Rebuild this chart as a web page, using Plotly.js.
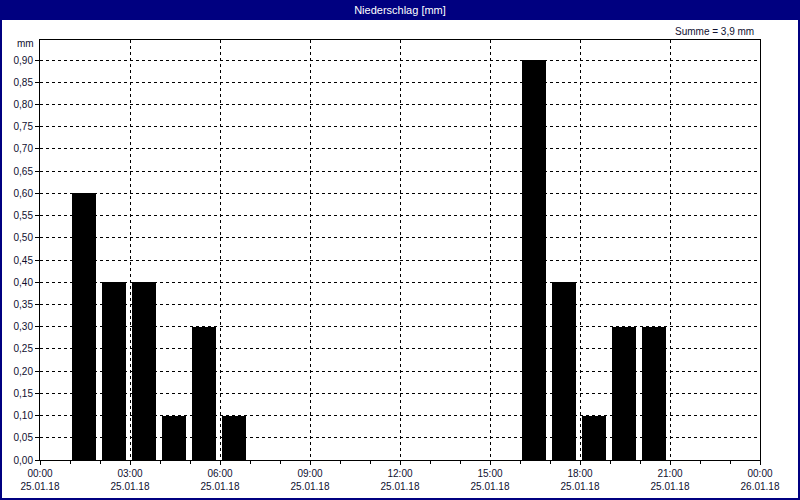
<!DOCTYPE html>
<html>
<head>
<meta charset="utf-8">
<script src="https://cdn.plot.ly/plotly-3.0.1.min.js"></script>
<style>html,body{margin:0;padding:0;background:#fff;}#chart{width:800px;height:500px;}</style>
</head>
<body>
<div id="chart"></div>
<script>
// Hour of day at which each hourly precipitation interval starts (25.01.18)
const hours = [1, 2, 3, 4, 5, 6, 16, 17, 18, 19, 20];
// Precipitation per hour in mm
const precip = [0.6, 0.4, 0.4, 0.1, 0.3, 0.1, 0.9, 0.4, 0.1, 0.3, 0.3];
// X tick labels
const xTickVals = [0, 3, 6, 9, 12, 15, 18, 21, 24];
const xTickTimes = ["00:00", "03:00", "06:00", "09:00", "12:00", "15:00", "18:00", "21:00", "00:00"];
const xTickDates = ["25.01.18", "25.01.18", "25.01.18", "25.01.18", "25.01.18", "25.01.18", "25.01.18", "25.01.18", "26.01.18"];
const titleText = "Niederschlag [mm]";
const sumText = "Summe = 3,9 mm";
const unitText = "mm";

const W = 800, H = 500, L = 40, R = 40, T = 40, B = 40;
const pw = W - L - R, ph = H - T - B;
const px = x => (x - L) / pw;
const py = y => (H - B - y) / ph;

const font = {family: "Liberation Sans, Arial, sans-serif", size: 10, color: "#101030"};

const trace = {
  type: "bar",
  x: hours.map(h => h + 0.47),
  y: precip,
  width: 0.8,
  marker: {color: "#000000", line: {width: 0}},
  hoverinfo: "skip"
};

const layout = {
  width: W, height: H,
  margin: {l: L, r: R, t: T, b: B, pad: 0},
  paper_bgcolor: "#ffffff",
  plot_bgcolor: "#ffffff",
  separators: ",.",
  font: font,
  showlegend: false,
  bargap: 0,
  title: {
    text: titleText,
    x: 0.5, xref: "container", xanchor: "center",
    y: 1 - 10 / H, yref: "container", yanchor: "middle",
    font: {family: "Liberation Sans, Arial, sans-serif", size: 11, color: "#ffffff"}
  },
  xaxis: {
    range: [0, 24],
    tickmode: "array",
    tickvals: xTickVals,
    ticktext: xTickVals.map((v, i) => xTickTimes[i] + "<br>" + xTickDates[i]),
    ticks: "outside", ticklen: 4, tickcolor: "#000",
    showline: true, linecolor: "#000", linewidth: 1, mirror: true,
    showgrid: true, gridcolor: "#000", gridwidth: 1, griddash: "3px,3px",
    zeroline: false,
    minor: {dtick: 1, tick0: 0, ticks: "outside", ticklen: 3, tickcolor: "#000", showgrid: false},
    fixedrange: true,
    tickfont: font
  },
  yaxis: {
    range: [0, 0.945],
    tick0: 0, dtick: 0.05,
    tickformat: ".2f",
    ticks: "outside", ticklen: 4, tickcolor: "#000",
    showline: true, linecolor: "#000", linewidth: 1, mirror: true,
    showgrid: true, gridcolor: "#000", gridwidth: 1, griddash: "3px,3px",
    zeroline: false,
    fixedrange: true,
    tickfont: font
  },
  shapes: [
    {type: "rect", xref: "paper", yref: "paper", layer: "below",
     x0: px(0), x1: px(W), y0: py(20), y1: py(0),
     fillcolor: "#000080", line: {width: 0}},
    {type: "rect", xref: "paper", yref: "paper", layer: "above",
     x0: px(1), x1: px(W - 1), y0: py(H - 1), y1: py(1),
     fillcolor: "rgba(0,0,0,0)", line: {color: "#000080", width: 2}}
  ],
  annotations: [
    {text: unitText, xref: "paper", yref: "paper", x: px(36), y: py(44),
     xanchor: "right", yanchor: "middle", showarrow: false, font: font},
    {text: sumText, xref: "paper", yref: "paper", x: px(756), y: py(31),
     xanchor: "right", yanchor: "middle", showarrow: false, font: font}
  ]
};

Plotly.newPlot("chart", [trace], layout, {displayModeBar: false, staticPlot: true});
</script>
</body>
</html>
